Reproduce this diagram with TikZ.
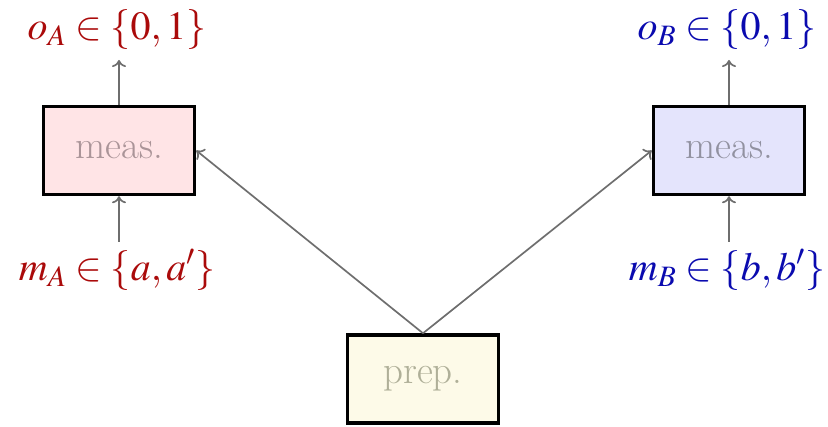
\documentclass[tikz,border=0pt]{standalone}
\usepackage{mathptmx}
\usetikzlibrary{arrows.meta}
\definecolor{pinkfill}{RGB}{255,228,230}
\definecolor{bluefill}{RGB}{228,228,252}
\definecolor{prepfill}{RGB}{253,250,232}
\definecolor{redlab}{RGB}{170,10,10}
\definecolor{bluelab}{RGB}{10,10,175}
\definecolor{meastxtA}{RGB}{170,148,152}
\definecolor{meastxtB}{RGB}{145,145,160}
\definecolor{preptxt}{RGB}{175,175,152}
\definecolor{conn}{RGB}{110,110,110}
\tikzset{
  boxnode/.style={draw=black, line width=3.5pt, minimum width=151pt, minimum height=88pt, inner sep=0pt,
    font=\fontsize{39}{46}\selectfont},
  lab/.style={inner sep=0pt, font=\fontsize{40}{48}\selectfont},
  conarrow/.style={draw=conn, line width=1.7pt, -{To[length=7pt,width=14pt]}}
}
\begin{document}
\begin{tikzpicture}[x=1pt,y=-1pt]
\useasboundingbox (0,0) rectangle (828,427);
\node[boxnode, fill=pinkfill, text=meastxtA] (mA) at (119,150.5) {meas.};
\node[boxnode, fill=bluefill, text=meastxtB] (mB) at (729,150.5) {meas.};
\node[boxnode, fill=prepfill, text=preptxt] (prep) at (423,379) {prep.};
\node[lab, text=redlab] (oA) at (117,30) {$o_A\in\{0,1\}$};
\node[lab, text=bluelab] (oB) at (727,30) {$o_B\in\{0,1\}$};
\node[lab, text=redlab] (inA) at (117,270) {$m_A\in\{a,a'\}$};
\node[lab, text=bluelab] (inB) at (727,270) {$m_B\in\{b,b'\}$};
\coordinate (oAend) at (119,60);
\coordinate (oBend) at (729,60);
\coordinate (inAstart) at (119,242);
\coordinate (inBstart) at (729,242);
\draw[conarrow] (mA.north) -- (oAend);
\draw[conarrow] (mB.north) -- (oBend);
\draw[conarrow] (inAstart) -- (mA.south);
\draw[conarrow] (inBstart) -- (mB.south);
\draw[conarrow] (prep.north) -- (mA.east);
\draw[conarrow] (prep.north) -- (mB.west);
\end{tikzpicture}
\end{document}
